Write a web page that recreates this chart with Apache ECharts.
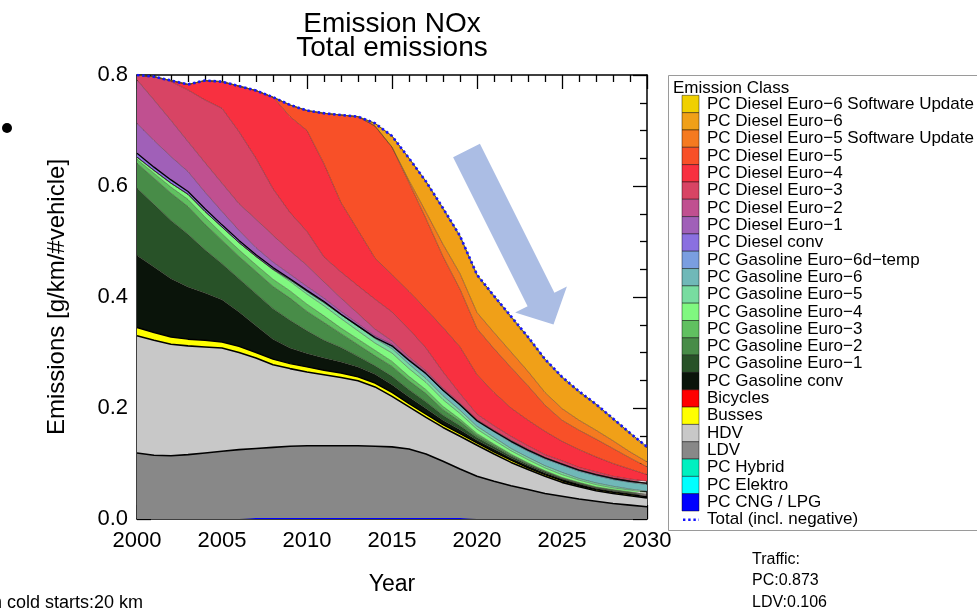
<!DOCTYPE html>
<html>
<head>
<meta charset="utf-8">
<script src="https://cdn.jsdelivr.net/npm/echarts@6/dist/echarts.min.js"></script>
<style>
  html, body { margin: 0; padding: 0; background: #fff; }
  #chart { width: 977px; height: 609px; }
</style>
</head>
<body>
<div id="chart"></div>
<script>
// Years on the horizontal axis
const years = ['2000','2001','2002','2003','2004','2005','2006','2007','2008','2009','2010',
  '2011','2012','2013','2014','2015','2016','2017','2018','2019','2020',
  '2021','2022','2023','2024','2025','2026','2027','2028','2029','2030'];

// NOx emissions per emission class [g/km/#vehicle], one value per year
const cng        = [0,0,0,0,0,0,0,.002,.002,.002,.002,.002,.002,.002,.002,.002,.002,.002,.002,.002,0,0,0,0,0,0,0,0,0,0,0];
const elektro    = [0,0,0,0,0,0,0,0,0,0,0,0,0,0,0,0,0,0,0,0,0,0,0,0,0,0,0,0,0,0,0];
const hybrid     = [0,0,0,0,0,0,0,0,0,0,0,0,0,0,0,0,0,0,0,0,0,0,0,0,0,0,0,0,0,0,0];
const ldv        = [.119,.115,.114,.116,.119,.122,.125,.125,.127,.129,.130,.130,.130,.130,.129,.128,.124,.115,.102,.088,.077,.068,.060,.053,.046,.041,.036,.032,.028,.025,.022];
const hdv        = [.211,.207,.201,.196,.191,.186,.175,.163,.149,.140,.133,.128,.123,.117,.107,.091,.076,.066,.061,.059,.056,.049,.042,.036,.031,.025,.022,.019,.018,.017,.016];
const busses     = [.015,.014,.013,.012,.012,.011,.011,.010,.010,.009,.009,.008,.008,.007,.007,.007,.006,.006,.005,.005,.004,.004,.004,.003,.003,.003,.002,.002,.002,.002,.002];
const bicycles   = [0,0,0,0,0,0,0,0,0,0,0,0,0,0,0,0,0,0,0,0,0,0,0,0,0,0,0,0,0,0,0];
const gasConv    = [.130,.118,.105,.094,.085,.076,.062,.048,.036,.028,.024,.022,.020,.018,.016,.014,.012,.010,.008,.007,.005,.005,.004,.004,.003,.003,.003,.002,.002,.002,.002];
const gasE1      = [.121,.113,.105,.095,.078,.065,.060,.058,.055,.050,.041,.032,.026,.019,.015,.015,.013,.012,.009,.007,.005,.004,.003,.002,.002,.001,.001,.001,.001,.001,.001];
const gasE2      = [.045,.047,.049,.050,.046,.042,.040,.040,.040,.040,.035,.032,.025,.021,.018,.018,.016,.015,.010,.008,.004,.003,.002,.002,.001,.001,.001,.001,.001,.001,.001];
const gasE3      = [.007,.009,.011,.013,.013,.012,.012,.012,.013,.013,.013,.012,.010,.010,.010,.009,.008,.007,.006,.004,.003,.002,.002,.001,.001,.001,.001,.001,.001,.001,.001];
const gasE4      = [.004,.005,.007,.009,.010,.012,.013,.015,.017,.017,.018,.018,.017,.015,.013,.015,.014,.013,.012,.010,.008,.007,.006,.006,.005,.005,.004,.004,.003,.003,.003];
const gasE5      = [0,0,0,0,0,0,0,0,.001,.003,.005,.006,.007,.008,.008,.008,.008,.007,.007,.006,.005,.005,.004,.004,.004,.004,.003,.003,.003,.002,.002];
const gasE6      = [0,0,0,0,0,0,0,0,0,0,0,0,0,0,.001,.004,.006,.008,.009,.009,.009,.010,.011,.011,.012,.013,.013,.013,.012,.012,.012];
const gasE6d     = [0,0,0,0,0,0,0,0,0,0,0,0,0,0,0,0,0,0,.001,.001,.001,.001,.002,.002,.002,.002,.002,.002,.002,.002,.002];
const dieselConv = [.007,.006,.006,.005,.005,.004,.004,.003,.003,.002,.002,.002,.001,.001,.001,.001,.001,.001,0,0,0,0,0,0,0,0,0,0,0,0,0];
const dieselE1   = [.054,.048,.042,.036,.030,.024,.018,.013,.010,.008,.007,.006,.005,.004,.003,.003,.002,.002,.002,.001,.001,.001,.001,.001,0,0,0,0,0,0,0];
const dieselE2   = [.078,.073,.065,.054,.053,.051,.048,.051,.048,.042,.038,.029,.024,.018,.012,.006,.004,.003,.002,.002,.001,.001,.001,.001,.001,.001,.001,.001,.001,.001,.001];
const dieselE3   = [.009,.042,.070,.093,.113,.135,.130,.110,.084,.069,.061,.045,.047,.050,.054,.052,.050,.041,.029,.017,.010,.008,.007,.006,.005,.005,.004,.004,.003,.003,.003];
const dieselE4   = [0,0,.002,.010,.035,.048,.082,.122,.165,.173,.182,.168,.125,.100,.074,.067,.068,.070,.080,.084,.071,.060,.051,.046,.042,.035,.032,.027,.023,.018,.012];
const dieselE5   = [0,0,0,0,0,0,0,0,0,.021,.036,.091,.158,.205,.238,.230,.196,.163,.128,.104,.083,.079,.073,.062,.047,.038,.035,.032,.027,.020,.014];
const dieselE5SU = [0,0,0,0,0,0,0,0,0,0,0,0,0,0,0,0,.004,.012,.022,.028,.029,.029,.028,.026,.023,.021,.018,.016,.014,.011,.009];
const dieselE6   = [0,0,0,0,0,0,0,0,0,0,0,0,0,0,.005,.020,.040,.055,.063,.066,.066,.064,.062,.060,.058,.055,.050,.045,.038,.032,.025];
const dieselE6SU = [0,0,0,0,0,0,0,0,0,0,0,0,0,0,0,0,0,0,.002,.002,.002,.002,.002,.002,.002,.002,.002,.002,.002,.002,.002];

// Emission classes, listed from the bottom of the stack to the top
const classes = [
  { name: 'PC CNG / LPG',                     color: '#0000ff', data: cng,        line: 0 },
  { name: 'PC Elektro',                       color: '#00ffff', data: elektro,    line: 0 },
  { name: 'PC Hybrid',                        color: '#00f0c0', data: hybrid,     line: 0 },
  { name: 'LDV',                              color: '#888888', data: ldv,        line: 1.6, lineColor: '#000' },
  { name: 'HDV',                              color: '#c8c8c8', data: hdv,        line: 1.6, lineColor: '#000' },
  { name: 'Busses',                           color: '#ffff00', data: busses,     line: 1.4, lineColor: '#000' },
  { name: 'Bicycles',                         color: '#ff0000', data: bicycles,   line: 0 },
  { name: 'PC Gasoline conv',                 color: '#0a140a', data: gasConv },
  { name: 'PC Gasoline Euro−1',               color: '#285228', data: gasE1 },
  { name: 'PC Gasoline Euro−2',               color: '#488c48', data: gasE2 },
  { name: 'PC Gasoline Euro−3',               color: '#60c060', data: gasE3 },
  { name: 'PC Gasoline Euro−4',               color: '#80f880', data: gasE4 },
  { name: 'PC Gasoline Euro−5',               color: '#78dca0', data: gasE5 },
  { name: 'PC Gasoline Euro−6',               color: '#70b8b8', data: gasE6 },
  { name: 'PC Gasoline Euro−6d−temp',         color: '#7a9ee0', data: gasE6d },
  { name: 'PC Diesel conv',                   color: '#8a70e0', data: dieselConv, line: 1.3, lineColor: '#000' },
  { name: 'PC Diesel Euro−1',                 color: '#a060b8', data: dieselE1 },
  { name: 'PC Diesel Euro−2',                 color: '#c05090', data: dieselE2 },
  { name: 'PC Diesel Euro−3',                 color: '#d84464', data: dieselE3 },
  { name: 'PC Diesel Euro−4',                 color: '#f83040', data: dieselE4 },
  { name: 'PC Diesel Euro−5',                 color: '#f85028', data: dieselE5 },
  { name: 'PC Diesel Euro−5 Software Update', color: '#f57a20', data: dieselE5SU },
  { name: 'PC Diesel Euro−6',                 color: '#f0a018', data: dieselE6 },
  { name: 'PC Diesel Euro−6 Software Update', color: '#f0d000', data: dieselE6SU, line: 1, lineColor: '#6a5a10' }
];

// Total over all classes
const total = years.map((_, i) => classes.reduce((s, c) => s + c.data[i], 0));

const FONT = '"Liberation Sans", Arial, Helvetica, sans-serif';
const chart = echarts.init(document.getElementById('chart'), null, { renderer: 'canvas' });

const grid = { left: 137, right: 330, top: 75, bottom: 90 };

const series = classes.map(c => ({
  name: c.name,
  type: 'line',
  stack: 'total',
  xAxisIndex: 0,
  yAxisIndex: 0,
  data: c.data,
  symbol: 'none',
  smooth: false,
  silent: true,
  lineStyle: {
    width: c.line === undefined ? 0.7 : c.line,
    color: c.lineColor || 'rgba(40,20,20,0.55)'
  },
  areaStyle: { color: c.color, opacity: 1 },
  emphasis: { disabled: true },
  z: 2
}));

series.push({
  name: 'Total (incl. negative)',
  type: 'line',
  xAxisIndex: 0,
  yAxisIndex: 0,
  data: total,
  symbol: 'none',
  silent: true,
  lineStyle: { color: '#1414ff', width: 2.6, type: [2.4, 2.8] },
  emphasis: { disabled: true },
  z: 4
});

// Legend, drawn top to bottom
const legendItems = classes.slice().reverse();
const rowY0 = 104, rowH = 17.32;
const LEGEND_FONT = '17px ' + FONT;
const legendGraphics = [
  { type: 'rect', shape: { x: 668.5, y: 75.5, width: 340, height: 455 },
    style: { fill: '#fff', stroke: '#9a9a9a', lineWidth: 1 }, z: 5 },
  { type: 'text', x: 673, y: 88,
    style: { text: 'Emission Class', font: LEGEND_FONT, fill: '#000', textVerticalAlign: 'middle' }, z: 6 }
];
legendItems.forEach((c, i) => {
  const cy = rowY0 + i * rowH;
  legendGraphics.push({ type: 'rect', shape: { x: 682, y: cy - rowH / 2, width: 17, height: rowH },
    style: { fill: c.color, stroke: 'rgba(0,0,0,0.55)', lineWidth: 0.8 }, z: 6 });
  legendGraphics.push({ type: 'text', x: 707, y: cy,
    style: { text: c.name, font: LEGEND_FONT, fill: '#000', textVerticalAlign: 'middle' }, z: 6 });
});
const totalRowY = rowY0 + legendItems.length * rowH;
legendGraphics.push({ type: 'line', shape: { x1: 683, y1: totalRowY, x2: 699, y2: totalRowY },
  style: { stroke: '#1414ff', lineWidth: 2.6, lineDash: [2.4, 2.8] }, z: 6 });
legendGraphics.push({ type: 'text', x: 707, y: totalRowY,
  style: { text: 'Total (incl. negative)', font: LEGEND_FONT, fill: '#000', textVerticalAlign: 'middle' }, z: 6 });

const axisLine = { show: true, lineStyle: { color: '#000', width: 1.5 } };
const majorTick = { show: true, inside: true, length: 14, lineStyle: { color: '#000', width: 1.3 } };

const option = {
  animation: false,
  backgroundColor: '#fff',
  grid: grid,
  xAxis: [
    { type: 'category', data: years, boundaryGap: false, show: false },
    { type: 'value', min: 2000, max: 2030, interval: 5, position: 'bottom',
      axisLine: axisLine, axisTick: majorTick,
      minorTick: { show: true, splitNumber: 5, length: 7, lineStyle: { color: '#000', width: 1.3 } },
      splitLine: { show: false }, minorSplitLine: { show: false },
      axisLabel: { color: '#000', fontSize: 22, fontFamily: FONT, margin: 11, formatter: v => String(v) },
      name: 'Year', nameLocation: 'middle', nameGap: 54,
      nameTextStyle: { color: '#000', fontSize: 23, fontFamily: FONT } },
    { type: 'value', min: 2000, max: 2030, interval: 5, position: 'top',
      axisLine: axisLine, axisTick: majorTick,
      minorTick: { show: true, splitNumber: 5, length: 7, lineStyle: { color: '#000', width: 1.3 } },
      splitLine: { show: false }, axisLabel: { show: false } }
  ],
  yAxis: [
    { type: 'value', min: 0, max: 0.8, interval: 0.2, position: 'left',
      axisLine: axisLine, axisTick: majorTick,
      minorTick: { show: true, splitNumber: 4, length: 7, lineStyle: { color: '#000', width: 1.3 } },
      splitLine: { show: false },
      axisLabel: { color: '#000', fontSize: 22, fontFamily: FONT, margin: 9, formatter: v => v.toFixed(1) },
      name: 'Emissions [g/km/#vehicle]', nameLocation: 'middle', nameGap: 68,
      nameTextStyle: { color: '#000', fontSize: 24, fontFamily: FONT } },
    { type: 'value', min: 0, max: 0.8, interval: 0.2, position: 'right',
      axisLine: axisLine, axisTick: majorTick,
      minorTick: { show: true, splitNumber: 4, length: 7, lineStyle: { color: '#000', width: 1.3 } },
      splitLine: { show: false }, axisLabel: { show: false } }
  ],
  series: series,
  graphic: [
    // title
    { type: 'text', x: 392, y: 24, style: { text: 'Emission NOx', font: '28px ' + FONT, fill: '#000', textAlign: 'center', textVerticalAlign: 'middle' } },
    { type: 'text', x: 392, y: 48, style: { text: 'Total emissions', font: '28px ' + FONT, fill: '#000', textAlign: 'center', textVerticalAlign: 'middle' } },
    // trend arrow
    { type: 'polygon', z: 10, silent: true,
      shape: { points: [[453.1,157.2],[479.9,143.8],[554.4,292.8],[566.9,286.5],[553.5,324.5],[515.1,312.5],[527.6,306.2]] },
      style: { fill: '#abbde4' } },
    // list bullet
    { type: 'circle', shape: { cx: 7, cy: 128, r: 5 }, style: { fill: '#000' } },
    // side notes
    { type: 'text', x: -8, y: 603, style: { text: 'n cold starts:20 km', font: '18px ' + FONT, fill: '#000', textVerticalAlign: 'middle' } },
    { type: 'text', x: 752, y: 560, style: { text: 'Traffic:', font: '16px ' + FONT, fill: '#000', textVerticalAlign: 'middle' } },
    { type: 'text', x: 752, y: 581, style: { text: 'PC:0.873', font: '16px ' + FONT, fill: '#000', textVerticalAlign: 'middle' } },
    { type: 'text', x: 752, y: 603, style: { text: 'LDV:0.106', font: '16px ' + FONT, fill: '#000', textVerticalAlign: 'middle' } }
  ].concat(legendGraphics)
};

chart.setOption(option);
</script>
</body>
</html>
